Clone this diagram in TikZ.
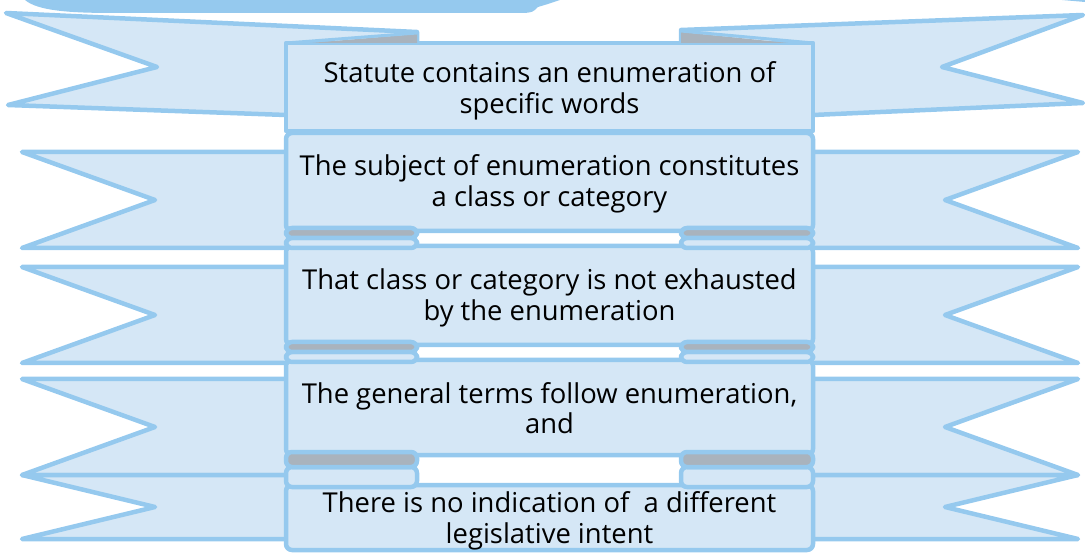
\documentclass[tikz,border=0pt]{standalone}
\usepackage{fontspec}
\setmainfont{Open Sans}
\definecolor{rfill}{HTML}{D5E7F6}
\definecolor{rline}{HTML}{95C9EE}
\definecolor{rgray}{HTML}{A9B3BD}
\begin{document}
\begin{tikzpicture}[x=1pt,y=-1pt,line join=round,
  rib/.style={fill=rfill,draw=rline,line width=4.5pt},
  lobeup/.style={fill=rgray,draw=rline,line width=4.5pt,rounded corners=6pt},
  lobedn/.style={fill=rfill,draw=rline,line width=4.5pt,rounded corners=6pt},
  lbl/.style={font=\fontsize{27.4}{30.5}\selectfont,align=center,inner sep=0pt,text=black}]
\useasboundingbox (0,0) rectangle (1085,553);
% top fragments
\fill[rline] (25,0) .. controls (38,11) and (70,13) .. (115,13) -- (525,13)
  .. controls (533,12) .. (538,7) -- (548,4) -- (560,0) -- cycle;
\fill[rline] (1062,0) -- (1085,0) -- (1085,2) -- cycle;
% ribbon 1 tails
\draw[rib] (6,13) -- (417,32) -- (417,60) -- (286,115) -- (8,105) -- (157,67) -- cycle;
\draw[rib] (681,30) -- (1083,15) -- (942,67) -- (1083,103) -- (813,115) -- (681,60) -- cycle;
% tails rows 2-5
\foreach \a/\b in {152/248,267/363,379/475,475/539}{
  \draw[rib] (22,\a) -- (292,\a) -- (292,\b) -- (22,\b) -- (155,{(\a+\b)/2}) -- cycle;
  \draw[rib] (1078,\a) -- (808,\a) -- (808,\b) -- (1078,\b) -- (945,{(\a+\b)/2}) -- cycle;
}
% box 1
\draw[rib] (286,43) rectangle (813,131);
\fill[rgray] (310,43) -- (417,34) -- (417,43) -- cycle;
\draw[rline,line width=3pt] (286,43) -- (417,33);
\fill[rgray] (788,43) -- (681,32) -- (681,43) -- cycle;
\draw[rline,line width=3pt] (813,43) -- (681,31);
% boxes 2-5
\draw[rib,rounded corners=6pt] (286,133) rectangle (813,231);
\draw[rib,rounded corners=6pt] (286,246) rectangle (813,345);
\draw[rib,rounded corners=6pt] (286,360) rectangle (813,455);
\draw[rib,rounded corners=6pt] (286,485) rectangle (813,550);
% curls
\foreach \B/\M/\T in {231/238/246,345/352/360,455/467/485}{
  \draw[lobedn] (286,\M) rectangle (417,\T+2);
  \draw[lobeup] (286,\B-3) rectangle (417,\M);
  \draw[lobedn] (681,\M) rectangle (813,\T+2);
  \draw[lobeup] (681,\B-3) rectangle (813,\M);
}
% texts
\node[lbl] (t1) at (549.5,91) {Statute contains an enumeration of\\specific words};
\node[lbl] (t2) at (549.5,184) {The subject of enumeration constitutes\\a class or category};
\node[lbl] (t3) at (549.5,298) {That class or category is not exhausted\\by the enumeration};
\node[lbl] (t4) at (549.5,408) {The general terms follow enumeration,\\and};
\node[lbl] (t5) at (549.5,521) {There is no indication of\ \ a different\\legislative intent};
\end{tikzpicture}
\end{document}
